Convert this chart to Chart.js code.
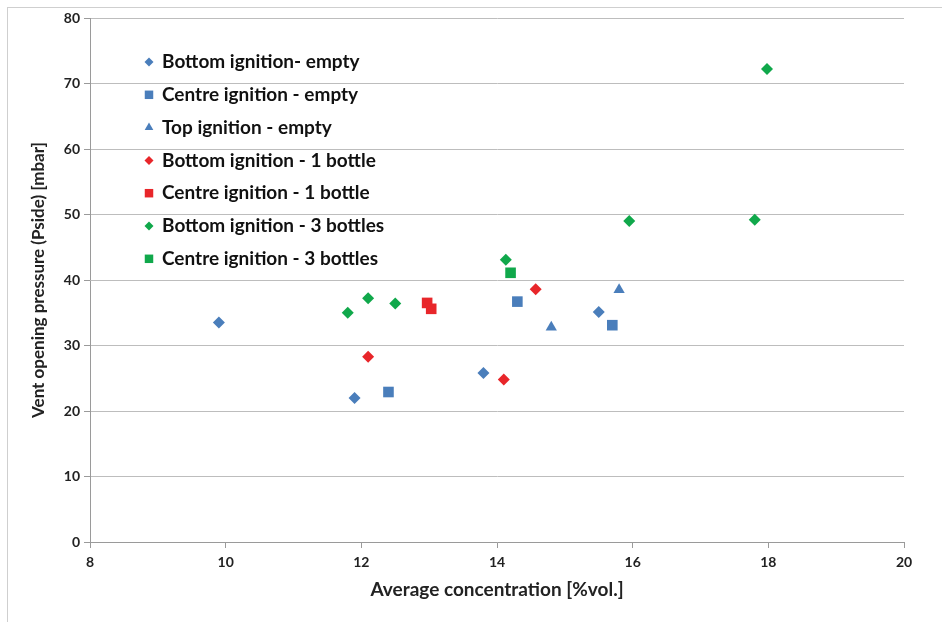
<!DOCTYPE html>
<html>
<head>
<meta charset="utf-8">
<script src="https://cdn.jsdelivr.net/npm/chart.js@4/dist/chart.umd.min.js"></script>
<style>
    body { margin: 0; background: #fff; }
    #wrap { position: relative; width: 942px; height: 622px; }
    #frame {
        position: absolute; left: 7px; top: 7px; right: 0; bottom: 0;
        border-left: 1px solid #cfcfcf; border-top: 1px solid #cfcfcf;
        pointer-events: none;
    }
</style>
</head>
<body>
<div id="wrap">
    <canvas id="ventChart" width="942" height="622"></canvas>
    <div id="frame"></div>
</div>
<script>
// Data
const seriesLabels = [
    "Bottom ignition- empty",
    "Centre ignition - empty",
    "Top ignition - empty",
    "Bottom ignition - 1 bottle",
    "Centre ignition - 1 bottle",
    "Bottom ignition - 3 bottles",
    "Centre ignition - 3 bottles",
];

const bottomEmptyX = [9.9, 11.9, 13.8, 15.5];
const bottomEmptyY = [33.5, 22.0, 25.8, 35.1];

const centreEmptyX = [12.4, 14.3, 15.7];
const centreEmptyY = [22.9, 36.7, 33.1];

const topEmptyX = [14.8, 15.8];
const topEmptyY = [32.8, 38.5];

const bottom1X = [12.1, 14.1, 14.57];
const bottom1Y = [28.3, 24.8, 38.6];

const centre1X = [12.97, 13.03];
const centre1Y = [36.5, 35.6];

const bottom3X = [11.8, 12.1, 12.5, 14.13, 15.95, 17.8, 17.98];
const bottom3Y = [35.0, 37.2, 36.4, 43.1, 49.0, 49.2, 72.2];

const centre3X = [14.2];
const centre3Y = [41.1];

const xTicks = [8, 10, 12, 14, 16, 18, 20];
const yTicks = [0, 10, 20, 30, 40, 50, 60, 70, 80];

const BLUE = "#4a7ebb";
const RED = "#e8262a";
const GREEN = "#10a84b";

function toPoints(xs, ys) {
    return xs.map((x, i) => ({ x: x, y: ys[i] }));
}

function makeSet(label, xs, ys, color, style, radius) {
    return {
        label: label,
        data: toPoints(xs, ys),
        backgroundColor: color,
        borderColor: color,
        borderWidth: 0,
        pointStyle: style,
        pointRadius: radius,
        pointHoverRadius: radius,
    };
}

// Legend drawn inside the plot area, like the original
const innerLegend = {
    id: "innerLegend",
    afterDatasetsDraw(chart) {
        const ctx = chart.ctx;
        const x0 = 149;
        const y0 = 62;
        const step = 32.8;
        ctx.save();
        chart.data.datasets.forEach((ds, i) => {
            const y = y0 + i * step;
            ctx.fillStyle = ds.backgroundColor;
            ctx.strokeStyle = ds.borderColor;
            let r = 4.5;
            if (ds.pointStyle === "rect") r = 6;
            if (ds.pointStyle === "triangle") r = 5;
            Chart.helpers.drawPoint(ctx, { pointStyle: ds.pointStyle, radius: r, borderWidth: 0, rotation: 0 }, x0, y);
            ctx.fillStyle = "#111";
            ctx.font = "bold 19px Lato";
            ctx.textBaseline = "middle";
            ctx.textAlign = "left";
            ctx.fillText(ds.label, x0 + 13, y);
        });
        ctx.restore();
    },
};

const ctx = document.getElementById("ventChart").getContext("2d");

new Chart(ctx, {
    type: "scatter",
    data: {
        datasets: [
            makeSet(seriesLabels[0], bottomEmptyX, bottomEmptyY, BLUE, "rectRot", 6),
            makeSet(seriesLabels[1], centreEmptyX, centreEmptyY, BLUE, "rect", 7.5),
            makeSet(seriesLabels[2], topEmptyX, topEmptyY, BLUE, "triangle", 6.5),
            makeSet(seriesLabels[3], bottom1X, bottom1Y, RED, "rectRot", 6),
            makeSet(seriesLabels[4], centre1X, centre1Y, RED, "rect", 7.5),
            makeSet(seriesLabels[5], bottom3X, bottom3Y, GREEN, "rectRot", 6),
            makeSet(seriesLabels[6], centre3X, centre3Y, GREEN, "rect", 7.5),
        ],
    },
    options: {
        responsive: false,
        animation: false,
        layout: { padding: { left: 20, top: 18, right: 38, bottom: 0 } },
        plugins: {
            legend: { display: false },
            tooltip: { enabled: false },
        },
        scales: {
            x: {
                type: "linear",
                min: 8,
                max: 20,
                afterBuildTicks: (scale) => {
                    scale.ticks = xTicks.map((v) => ({ value: v }));
                },
                afterFit: (scale) => {
                    scale.height = 80;
                },
                ticks: {
                    color: "#222",
                    font: { family: "Lato", size: 14, weight: "bold" },
                    padding: 6,
                },
                grid: {
                    display: true,
                    drawOnChartArea: false,
                    drawTicks: true,
                    tickLength: 6,
                    color: "#9a9a9a",
                },
                border: { color: "#9a9a9a" },
                title: {
                    display: true,
                    text: "Average concentration [%vol.]",
                    color: "#222",
                    font: { family: "Lato", size: 19, weight: "bold" },
                    padding: { top: 0, bottom: 21 },
                },
            },
            y: {
                type: "linear",
                min: 0,
                max: 80,
                afterBuildTicks: (scale) => {
                    scale.ticks = yTicks.map((v) => ({ value: v }));
                },
                afterFit: (scale) => {
                    scale.width = 70;
                },
                ticks: {
                    color: "#222",
                    font: { family: "Lato", size: 14, weight: "bold" },
                    padding: 4,
                },
                grid: {
                    color: "#bdbdbd",
                    tickLength: 6,
                    tickColor: "#9a9a9a",
                },
                border: { color: "#9a9a9a" },
                title: {
                    display: true,
                    text: "Vent opening pressure (Pside) [mbar]",
                    color: "#222",
                    font: { family: "Lato", size: 17, weight: "bold" },
                    padding: { top: 8, bottom: 4 },
                },
            },
        },
    },
    plugins: [innerLegend],
});
</script>
</body>
</html>
